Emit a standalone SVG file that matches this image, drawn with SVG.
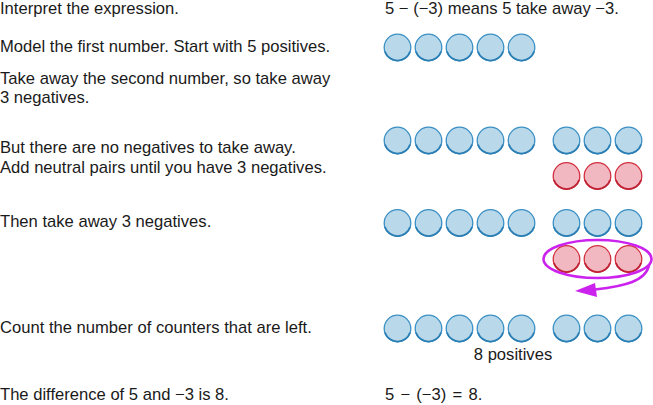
<svg xmlns="http://www.w3.org/2000/svg" xmlns:xlink="http://www.w3.org/1999/xlink" width="653" height="405" viewBox="0 0 653 405">
<style>
text{font-family:"Liberation Sans",Arial,sans-serif;font-size:16.6px;fill:#1a1a1a}
.pos{fill:#b9d8ea;stroke:#3a8fc4;stroke-width:1.3}
.posb{fill:none;stroke:#2b7fb4;stroke-width:1.8}
.neg{fill:#f1b8c2;stroke:#d2303f;stroke-width:1.3}
.negb{fill:none;stroke:#c02233;stroke-width:1.8}
.loop{fill:none;stroke:#cc22ee;stroke-width:2.6}
</style>
<defs>
<symbol id="p" overflow="visible"><circle class="pos" r="13.3"/><path class="posb" d="M-12.6,4 A13.3,13.3 0 0 0 12.6,4"/></symbol>
<symbol id="n" overflow="visible"><circle class="neg" r="13.3"/><path class="negb" d="M-12.6,4 A13.3,13.3 0 0 0 12.6,4"/></symbol>
</defs>
<g id="steps">
<text x="0" y="14">Interpret the expression.</text>
<text x="0" y="52">Model the first number. Start with 5 positives.</text>
<text x="0" y="84">Take away the second number, so take away</text>
<text x="0" y="103">3 negatives.</text>
<text x="0" y="153">But there are no negatives to take away.</text>
<text x="0" y="173">Add neutral pairs until you have 3 negatives.</text>
<text x="0" y="227">Then take away 3 negatives.</text>
<text x="0" y="333">Count the number of counters that are left.</text>
<text x="0" y="400">The difference of 5 and −3 is 8.</text>
</g>
<g id="expr">
<text x="385" y="14">5 − (−3) means 5 take away −3.</text>
<text x="385" y="400" word-spacing="1.6">5 − (−3) = 8.</text>
</g>
<g id="row1">
<use xlink:href="#p" x="397.5" y="47.5"/><use xlink:href="#p" x="428.5" y="47.5"/><use xlink:href="#p" x="459.5" y="47.5"/><use xlink:href="#p" x="490.5" y="47.5"/><use xlink:href="#p" x="521.5" y="47.5"/>
</g>
<g id="row2">
<use xlink:href="#p" x="397.5" y="140.5"/><use xlink:href="#p" x="428.5" y="140.5"/><use xlink:href="#p" x="459.5" y="140.5"/><use xlink:href="#p" x="490.5" y="140.5"/><use xlink:href="#p" x="521.5" y="140.5"/>
<use xlink:href="#p" x="566.5" y="140.5"/><use xlink:href="#p" x="597.5" y="140.5"/><use xlink:href="#p" x="628.5" y="140.5"/>
<use xlink:href="#n" x="566.5" y="176"/><use xlink:href="#n" x="597.5" y="176"/><use xlink:href="#n" x="628.5" y="176"/>
</g>
<g id="row3">
<use xlink:href="#p" x="397.5" y="223"/><use xlink:href="#p" x="428.5" y="223"/><use xlink:href="#p" x="459.5" y="223"/><use xlink:href="#p" x="490.5" y="223"/><use xlink:href="#p" x="521.5" y="223"/>
<use xlink:href="#p" x="566.5" y="223"/><use xlink:href="#p" x="597.5" y="223"/><use xlink:href="#p" x="628.5" y="223"/>
<use xlink:href="#n" x="566.5" y="259"/><use xlink:href="#n" x="597.5" y="259"/><use xlink:href="#n" x="628.5" y="259"/>
</g>
<g id="connectors">
<ellipse class="loop" cx="597.5" cy="259" rx="54" ry="19"/>
<path class="loop" d="M649,265 C646,281 625,286 595,289.5"/>
<path d="M575,291 L595,283 L597,297 Z" fill="#cc22ee"/>
</g>
<g id="row4">
<use xlink:href="#p" x="397.5" y="328.5"/><use xlink:href="#p" x="428.5" y="328.5"/><use xlink:href="#p" x="459.5" y="328.5"/><use xlink:href="#p" x="490.5" y="328.5"/><use xlink:href="#p" x="521.5" y="328.5"/>
<use xlink:href="#p" x="566.5" y="328.5"/><use xlink:href="#p" x="597.5" y="328.5"/><use xlink:href="#p" x="628.5" y="328.5"/>
<text x="513" y="360" text-anchor="middle">8 positives</text>
</g>
</svg>
